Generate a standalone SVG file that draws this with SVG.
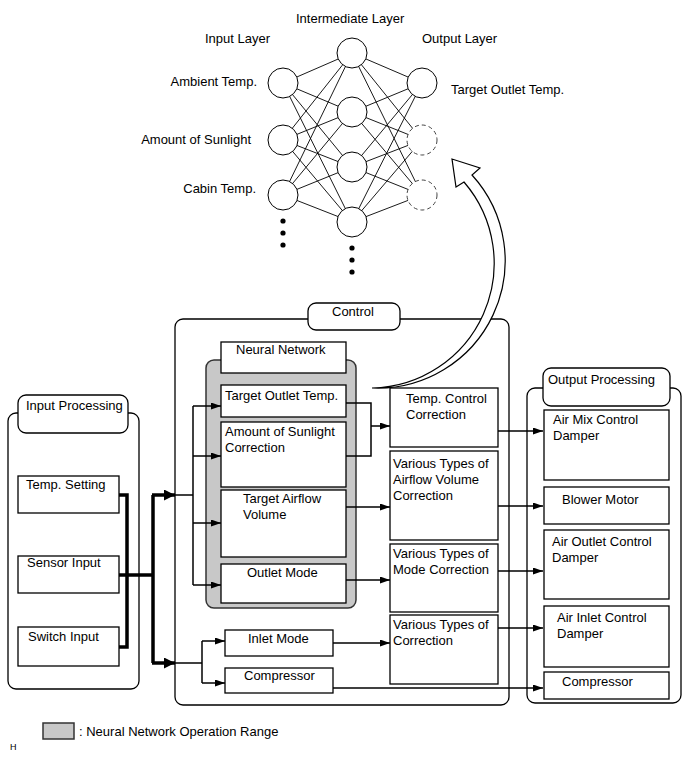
<svg xmlns="http://www.w3.org/2000/svg" width="690" height="759" viewBox="0 0 690 759">
<defs>
<style>
text{font-family:"Liberation Sans",Arial,sans-serif;font-size:13px;fill:#000}
.b{fill:#fff;stroke:#000;stroke-width:1.3}
.g{fill:#c8c8c8;stroke:#333;stroke-width:1.5}
.c{fill:#fff;stroke:#000;stroke-width:1}
.cd{fill:#fff;stroke:#444;stroke-width:1;stroke-dasharray:4 3}
.nl{stroke:#000;stroke-width:0.9;fill:none}
.t{stroke:#000;stroke-width:1.5;fill:none}
.k{stroke:#000;stroke-width:3.5;fill:none}
</style>
<marker id="a" markerUnits="userSpaceOnUse" markerWidth="10" markerHeight="8" refX="10" refY="3.5" orient="auto"><path d="M0,0 L10,3.5 L0,7 z" fill="#000"/></marker>
<marker id="ak" markerUnits="userSpaceOnUse" markerWidth="12" markerHeight="12" refX="11" refY="5.5" orient="auto"><path d="M0,0 L11,5.5 L0,11 z" fill="#000"/></marker>
</defs>
<rect width="690" height="759" fill="#fff"/>

<g id="neural-net">
<g class="nl">
<path d="M283,83 L352,53 M283,83 L352,112 M283,83 L352,167 M283,83 L352,222 M283,140 L352,53 M283,140 L352,112 M283,140 L352,167 M283,140 L352,222 M283,195 L352,53 M283,195 L352,112 M283,195 L352,167 M283,195 L352,222"/>
<path d="M352,53 L422,83 M352,53 L422,140 M352,53 L422,195 M352,112 L422,83 M352,112 L422,140 M352,112 L422,195 M352,167 L422,83 M352,167 L422,140 M352,167 L422,195 M352,222 L422,83 M352,222 L422,140 M352,222 L422,195"/>
</g>
<circle class="c" cx="283" cy="83" r="15"/>
<circle class="c" cx="283" cy="140" r="15"/>
<circle class="c" cx="283" cy="195" r="15"/>
<circle class="c" cx="352" cy="53" r="15"/>
<circle class="c" cx="352" cy="112" r="15"/>
<circle class="c" cx="352" cy="167" r="15"/>
<circle class="c" cx="352" cy="222" r="15"/>
<circle class="c" cx="422" cy="83" r="15"/>
<circle class="cd" cx="422" cy="140" r="15"/>
<circle class="cd" cx="422" cy="195" r="15"/>
<g fill="#000">
<circle cx="283" cy="221" r="2.6"/><circle cx="283" cy="233" r="2.6"/><circle cx="283" cy="245" r="2.6"/>
<circle cx="352" cy="248" r="2.6"/><circle cx="352" cy="260" r="2.6"/><circle cx="352" cy="272" r="2.6"/>
</g>
<text x="296" y="23">Intermediate Layer</text>
<text x="205" y="43">Input Layer</text>
<text x="422" y="43">Output Layer</text>
<text x="257" y="86" text-anchor="end">Ambient Temp.</text>
<text x="251" y="144" text-anchor="end">Amount of Sunlight</text>
<text x="256" y="193" text-anchor="end">Cabin Temp.</text>
<text x="451" y="94">Target Outlet Temp.</text>
</g>

<g id="input-processing">
<rect class="b" x="8" y="413" width="131" height="276" rx="8"/>
<rect class="b" x="18" y="395" width="110" height="38" rx="8"/>
<text x="26" y="410">Input Processing</text>
</g>
<g id="temp-setting"><rect class="b" x="18" y="476" width="101" height="37"/><text x="26" y="489">Temp. Setting</text></g>
<g id="sensor-input"><rect class="b" x="18" y="556" width="101" height="37"/><text x="27" y="567">Sensor Input</text></g>
<g id="switch-input"><rect class="b" x="18" y="627" width="101" height="39"/><text x="28" y="641">Switch Input</text></g>

<g id="control">
<rect class="b" x="175" y="319" width="334" height="386" rx="8"/>
<rect class="b" x="308" y="303" width="92" height="27" rx="8"/>
<text x="332" y="316">Control</text>
</g>
<g id="neural-network">
<rect class="g" x="206" y="360" width="150" height="248" rx="8"/>
<rect class="b" x="221" y="342" width="125" height="31"/>
<text x="236" y="354">Neural Network</text>
</g>
<g id="target-outlet-temp"><rect class="b" x="221" y="385" width="125" height="32"/><text x="225" y="400">Target Outlet Temp.</text></g>
<g id="sunlight-correction"><rect class="b" x="221" y="422" width="125" height="65"/><text x="225" y="436">Amount of Sunlight</text><text x="225" y="452">Correction</text></g>
<g id="target-airflow"><rect class="b" x="221" y="490" width="125" height="67"/><text x="243" y="503">Target Airflow</text><text x="243" y="519">Volume</text></g>
<g id="outlet-mode"><rect class="b" x="221" y="564" width="125" height="39"/><text x="247" y="577">Outlet Mode</text></g>
<g id="inlet-mode"><rect class="b" x="225" y="630" width="108" height="26"/><text x="248" y="643">Inlet Mode</text></g>
<g id="compressor-ctrl"><rect class="b" x="225" y="668" width="108" height="25"/><text x="244" y="680">Compressor</text></g>
<g id="temp-control-correction"><rect class="b" x="390" y="388" width="108" height="59"/><text x="406" y="403">Temp. Control</text><text x="406" y="419">Correction</text></g>
<g id="airflow-correction"><rect class="b" x="390" y="451" width="108" height="89"/><text x="393" y="468">Various Types of</text><text x="393" y="484">Airflow Volume</text><text x="393" y="500">Correction</text></g>
<g id="mode-correction"><rect class="b" x="390" y="544" width="108" height="68"/><text x="393" y="558">Various Types of</text><text x="393" y="574">Mode Correction</text></g>
<g id="various-correction"><rect class="b" x="390" y="615" width="108" height="69"/><text x="393" y="629">Various Types of</text><text x="393" y="645">Correction</text></g>

<g id="output-processing">
<rect class="b" x="527" y="388" width="154" height="315" rx="8"/>
<rect class="b" x="543" y="368" width="127" height="38" rx="8"/>
<text x="548" y="384">Output Processing</text>
</g>
<g id="air-mix"><rect class="b" x="544" y="410" width="125" height="70"/><text x="553" y="424">Air Mix Control</text><text x="553" y="440">Damper</text></g>
<g id="blower"><rect class="b" x="544" y="487" width="125" height="37"/><text x="562" y="504">Blower Motor</text></g>
<g id="air-outlet"><rect class="b" x="544" y="530" width="125" height="69"/><text x="552" y="546">Air Outlet Control</text><text x="552" y="562">Damper</text></g>
<g id="air-inlet"><rect class="b" x="544" y="606" width="125" height="61"/><text x="557" y="622">Air Inlet Control</text><text x="557" y="638">Damper</text></g>
<g id="compressor-out"><rect class="b" x="544" y="672" width="125" height="27"/><text x="562" y="686">Compressor</text></g>

<g id="connectors">
<path class="k" d="M119,495 H127 V647 H119"/>
<path class="k" d="M119,575 H153"/>
<path class="k" d="M153,495 V663"/>
<path class="k" d="M152,495 H175" marker-end="url(#ak)"/>
<path class="k" d="M152,663 H175" marker-end="url(#ak)"/>
<path class="t" d="M175,495 H193"/>
<path class="t" d="M193,406 V585"/>
<path class="t" d="M193,406 H221" marker-end="url(#a)"/>
<path class="t" d="M193,456 H221" marker-end="url(#a)"/>
<path class="t" d="M193,523 H221" marker-end="url(#a)"/>
<path class="t" d="M193,585 H221" marker-end="url(#a)"/>
<path class="t" d="M175,663 H202"/>
<path class="t" d="M202,641 V683"/>
<path class="t" d="M202,641 H225" marker-end="url(#a)"/>
<path class="t" d="M202,683 H225" marker-end="url(#a)"/>
<path class="t" d="M346,403 H371 V456 H346"/>
<path class="t" d="M371,426 H390" marker-end="url(#a)"/>
<path class="t" d="M346,507 H390" marker-end="url(#a)"/>
<path class="t" d="M346,580 H390" marker-end="url(#a)"/>
<path class="t" d="M333,643 H390" marker-end="url(#a)"/>
<path class="t" d="M333,688 H543" marker-end="url(#a)"/>
<path class="t" d="M498,431 H543" marker-end="url(#a)"/>
<path class="t" d="M498,506 H543" marker-end="url(#a)"/>
<path class="t" d="M498,571 H543" marker-end="url(#a)"/>
<path class="t" d="M498,628 H543" marker-end="url(#a)"/>
<path d="M372,388 A127.4,127.4 0 0 0 472,175 L480,168 L452,159 L456,187 L464,182 A124.7,124.7 0 0 1 372,388 Z" fill="#fff" stroke="#000" stroke-width="1.2" stroke-linejoin="miter"/>
</g>

<g id="legend">
<rect class="g" x="43" y="723" width="31" height="16"/>
<text x="79" y="736">: Neural Network Operation Range</text>
<text x="10" y="750" style="font-size:9px">H</text>
</g>
</svg>
